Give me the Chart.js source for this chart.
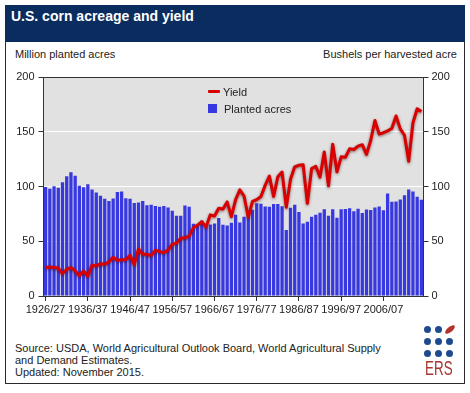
<!DOCTYPE html>
<html>
<head>
<meta charset="utf-8">
<script src="https://cdn.jsdelivr.net/npm/chart.js@4.4.1/dist/chart.umd.min.js"></script>
<style>
  html, body { margin:0; padding:0; background:#ffffff; width:470px; height:393px; overflow:hidden; }
  body { position:relative; font-family:"Liberation Sans", Arial, sans-serif; color:#222; }
  .abs { position:absolute; white-space:nowrap; }
  #banner { left:5px; top:5px; width:460px; height:37px; background:#0a2c5e; }
  #title { left:11px; top:6px; font-size:14px; font-weight:bold; color:#ffffff; line-height:20px; }
  #frame { left:5px; top:41px; width:458px; height:342px; border:1px solid #2a2a2a; border-top:none; background:#fff; }
  #c { position:absolute; left:0; top:65px; }
  .lbl { font-size:11px; line-height:14px; color:#222; }
  .dot { position:absolute; width:7px; height:7px; border-radius:50%; background:#1f4b8e; }
</style>
</head>
<body>
<div id="frame" class="abs"></div>
<div id="banner" class="abs"></div>
<div id="title" class="abs">U.S. corn acreage and yield</div>
<div class="abs lbl" style="left:15px; top:47px;">Million planted acres</div>
<div class="abs lbl" style="right:13px; top:47px;">Bushels per harvested acre</div>
<canvas id="c" width="470" height="260"></canvas>
<div class="abs" style="left:208px; top:90px; width:12px; height:3px; background:#d80000; border-radius:1px;"></div>
<div class="abs lbl" style="left:223px; top:85px;">Yield</div>
<div class="abs" style="left:208px; top:104px; width:9px; height:9px; background:#3838e0;"></div>
<div class="abs lbl" style="left:224px; top:102px;">Planted acres</div>
<div class="abs lbl" style="left:15px; top:342px; line-height:12px;">Source: USDA, World Agricultural Outlook Board, World Agricultural Supply<br>and Demand Estimates.<br>Updated: November 2015.</div>
<div class="dot" style="left:424px; top:326px;"></div>
<div class="dot" style="left:435px; top:326px;"></div>
<div class="abs" style="left:444px; top:327px; width:12px; height:5px; background:#b0342a; border-radius:50%; transform:rotate(-40deg);"></div>
<div class="dot" style="left:424px; top:338px;"></div>
<div class="dot" style="left:435px; top:338px;"></div>
<div class="dot" style="left:446px; top:338px;"></div>
<div class="dot" style="left:424px; top:350px;"></div>
<div class="dot" style="left:435px; top:350px;"></div>
<div class="dot" style="left:446px; top:350px;"></div>
<div class="abs" style="left:425px; top:357px; font-size:21px; line-height:22px; color:#a8352f; transform:scaleX(0.64); transform-origin:left top;">ERS</div>
<script>
// Marketing years 1926/27 .. 2015/16
const firstYear = 1926;
const lastYear = 2015;
const categories = [];
for (let y = firstYear; y <= lastYear; y++) {
  categories.push(y + '/' + String((y + 1) % 100).padStart(2, '0'));
}
const tickLabels = ['1926/27','1936/37','1946/47','1956/57','1966/67','1976/77','1986/87','1996/97','2006/07'];

// Million planted acres
const plantedAcres = [
  99.5, 98.0, 100.3, 98.9, 103.9, 109.4, 113.0, 109.8, 100.6, 99.3,
  102.0, 97.2, 94.5, 91.6, 88.7, 86.8, 89.0, 94.9, 95.5, 89.3,
  88.9, 85.0, 85.5, 86.7, 82.9, 83.3, 82.2, 81.6, 82.2, 80.9,
  77.8, 73.2, 73.4, 82.7, 81.4, 65.9, 65.0, 68.8, 65.8, 65.2,
  66.3, 71.2, 65.1, 64.3, 66.9, 74.2, 67.1, 72.3, 77.9, 78.7,
  84.6, 84.3, 81.7, 81.4, 84.0, 84.1, 81.9, 60.2, 80.5, 83.4,
  76.6, 66.2, 67.7, 72.3, 74.2, 76.0, 79.3, 73.2, 79.2, 71.5,
  79.2, 79.5, 80.2, 77.4, 79.6, 75.7, 78.9, 78.6, 80.9, 81.8,
  78.3, 93.5, 86.0, 86.4, 88.2, 91.9, 97.2, 95.4, 90.6, 88.0
];

// Bushels per harvested acre
const yieldBu = [
  26.0, 26.5, 26.0, 25.5, 20.5, 24.5, 26.0, 23.0, 18.5, 23.0,
  18.0, 28.2, 27.7, 29.4, 28.9, 31.2, 35.4, 32.6, 33.0, 33.1,
  37.2, 28.6, 43.0, 38.2, 38.2, 36.9, 41.8, 40.7, 39.4, 42.0,
  47.4, 48.3, 52.8, 53.1, 54.7, 62.4, 64.7, 67.9, 62.9, 74.1,
  73.1, 80.1, 79.5, 85.9, 72.4, 88.1, 97.0, 91.3, 71.9, 86.4,
  88.0, 90.8, 101.0, 109.5, 91.0, 108.9, 113.2, 81.1, 106.7, 118.0,
  119.4, 119.8, 84.6, 116.3, 118.5, 108.6, 131.5, 100.7, 138.6, 113.5,
  127.1, 126.7, 134.4, 133.8, 136.9, 138.2, 129.3, 142.2, 160.3, 147.9,
  149.1, 150.7, 153.3, 164.4, 152.6, 146.8, 123.1, 158.1, 171.0, 168.4
];

const tickFont = { family: '"Liberation Sans", Arial, sans-serif', size: 11 };
const tickColor = '#222';
const axisColor = '#333';

const plotBg = {
  id: 'plotBg',
  beforeDraw(chart) {
    const a = chart.chartArea, c = chart.ctx;
    c.save();
    c.fillStyle = '#e1e1e1';
    c.fillRect(a.left, a.top, a.right - a.left, a.bottom - a.top);
    c.restore();
  },
  afterDraw(chart) {
    const a = chart.chartArea, c = chart.ctx;
    c.save();
    c.strokeStyle = axisColor;
    c.lineWidth = 1;
    c.beginPath();
    c.moveTo(a.left, Math.round(a.top) + 0.5);
    c.lineTo(a.right, Math.round(a.top) + 0.5);
    c.stroke();
    c.restore();
  },
  beforeDatasetDraw(chart, args) {
    if (args.meta.type === 'line') {
      const c = chart.ctx;
      c.save();
      c.shadowColor = 'rgba(60,0,0,0.55)';
      c.shadowBlur = 3;
      c.shadowOffsetX = 0;
      c.shadowOffsetY = 1;
    }
  },
  afterDatasetDraw(chart, args) {
    if (args.meta.type === 'line') chart.ctx.restore();
  }
};

new Chart(document.getElementById('c'), {
  type: 'bar',
  data: {
    labels: categories,
    datasets: [
      {
        type: 'line', label: 'Yield', data: yieldBu, yAxisID: 'y1',
        borderColor: '#d80000', borderWidth: 3, pointRadius: 0, tension: 0,
        borderJoinStyle: 'round', order: 0
      },
      {
        type: 'bar', label: 'Planted acres', data: plantedAcres, yAxisID: 'y',
        backgroundColor: '#3838e0', barPercentage: 0.78, categoryPercentage: 1.0, order: 1
      }
    ]
  },
  options: {
    responsive: false, animation: false, devicePixelRatio: 1,
    layout: { padding: { top: 12, bottom: 5, left: 0, right: 0 } },
    plugins: { legend: { display: false }, tooltip: { enabled: false } },
    scales: {
      x: {
        grid: { offset: false, drawOnChartArea: false, tickLength: 5, tickColor: axisColor },
        border: { color: axisColor },
        ticks: {
          autoSkip: false, maxRotation: 0, minRotation: 0, padding: 2,
          font: tickFont, color: tickColor,
          callback: (v, i) => (tickLabels.includes(categories[i]) ? categories[i] : null)
        },
        afterFit: s => { s.height = 24; }
      },
      y: {
        position: 'left', min: 0, max: 200,
        ticks: { stepSize: 50, padding: 4, font: tickFont, color: tickColor },
        grid: {
          color: ctx => (ctx.tick && ctx.tick.value > 0 && ctx.tick.value < 200) ? '#ffffff' : 'rgba(0,0,0,0)',
          tickColor: axisColor, tickLength: 5, lineWidth: 1
        },
        border: { color: axisColor },
        afterFit: s => { s.width = 43.5; }
      },
      y1: {
        position: 'right', min: 0, max: 200,
        ticks: { stepSize: 50, padding: 3, font: tickFont, color: tickColor },
        grid: { drawOnChartArea: false, tickColor: axisColor, tickLength: 5 },
        border: { color: axisColor },
        afterFit: s => { s.width = 46.5; }
      }
    }
  },
  plugins: [plotBg]
});
</script>
</body>
</html>
